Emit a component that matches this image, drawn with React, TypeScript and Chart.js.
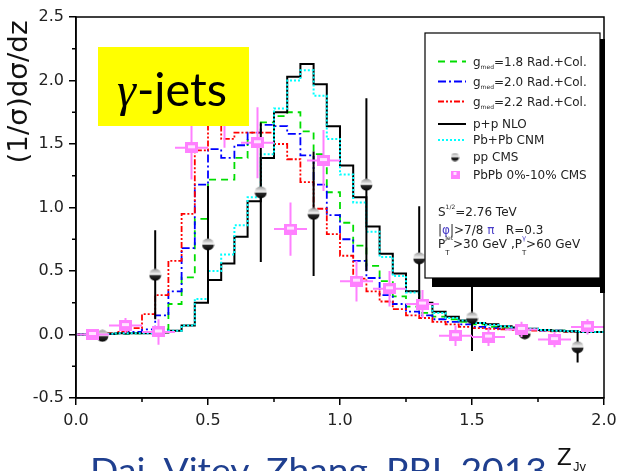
import React, { useEffect, useRef } from 'react';
import { Chart, registerables } from 'chart.js';

Chart.register(...registerables);

// ---------- data ----------
// histograms: 40 bins of width 0.05 covering z_Jgamma in [0, 2]
const BIN_START = 0;
const BIN_WIDTH = 0.05;

const ppNLO = [0.0, 0.0, 0.005, 0.01, 0.01, 0.01, 0.015, 0.03, 0.07, 0.25, 0.43, 0.56, 0.77, 1.05, 1.39, 1.75, 2.03, 2.13, 1.97, 1.64, 1.33, 1.08, 0.85, 0.635, 0.48, 0.34, 0.25, 0.18, 0.14, 0.11, 0.09, 0.08, 0.065, 0.055, 0.045, 0.035, 0.03, 0.025, 0.02, 0.02];
const pbpbCNM = [0.0, 0.0, 0.005, 0.01, 0.01, 0.01, 0.02, 0.03, 0.07, 0.28, 0.5, 0.63, 0.86, 1.08, 1.42, 1.78, 2.0, 2.08, 1.88, 1.54, 1.26, 1.04, 0.81, 0.61, 0.46, 0.33, 0.24, 0.17, 0.13, 0.11, 0.09, 0.075, 0.065, 0.055, 0.045, 0.035, 0.03, 0.025, 0.02, 0.02];
const gmed18 = [0.0, 0.0, 0.003, 0.005, 0.01, 0.015, 0.04, 0.24, 0.45, 0.91, 1.22, 1.22, 1.39, 1.53, 1.67, 1.72, 1.75, 1.6, 1.42, 1.12, 0.88, 0.7, 0.54, 0.42, 0.3, 0.22, 0.17, 0.14, 0.12, 0.1, 0.08, 0.06, 0.05, 0.045, 0.04, 0.035, 0.03, 0.025, 0.02, 0.02];
const gmed20 = [0.0, 0.0, 0.005, 0.01, 0.02, 0.04, 0.15, 0.34, 0.68, 1.18, 1.46, 1.39, 1.49, 1.59, 1.65, 1.64, 1.58, 1.41, 1.18, 0.94, 0.75, 0.58, 0.445, 0.31, 0.24, 0.18, 0.15, 0.12, 0.1, 0.08, 0.06, 0.05, 0.045, 0.04, 0.035, 0.03, 0.03, 0.025, 0.02, 0.02];
const gmed22 = [0.0, 0.005, 0.01, 0.02, 0.05, 0.16, 0.31, 0.58, 0.95, 1.45, 1.7, 1.54, 1.59, 1.59, 1.59, 1.5, 1.38, 1.2, 0.99, 0.79, 0.62, 0.44, 0.34, 0.26, 0.2, 0.15, 0.13, 0.1, 0.08, 0.06, 0.05, 0.045, 0.04, 0.035, 0.03, 0.03, 0.025, 0.02, 0.02, 0.02];

// pp CMS points
const ppCmsZ = [0.1, 0.3, 0.5, 0.7, 0.9, 1.1, 1.3, 1.5, 1.7, 1.9];
const ppCmsVal = [-0.01, 0.47, 0.71, 1.12, 0.95, 1.18, 0.6, 0.13, 0.01, -0.1];
const ppCmsErr = [0.03, 0.35, 0.46, 0.55, 0.49, 0.68, 0.41, 0.26, 0.03, 0.12];

// PbPb 0-10% CMS points
const pbCmsZ = [0.0625, 0.1875, 0.3125, 0.4375, 0.5625, 0.6875, 0.8125, 0.9375, 1.0625, 1.1875, 1.3125, 1.4375, 1.5625, 1.6875, 1.8125, 1.9375];
const pbCmsVal = [0.0, 0.07, 0.02, 1.47, 1.8, 1.51, 0.83, 1.37, 0.42, 0.36, 0.24, -0.01, -0.02, 0.04, -0.04, 0.06];
const pbCmsErr = [0.02, 0.06, 0.1, 0.25, 0.33, 0.28, 0.21, 0.24, 0.16, 0.14, 0.11, 0.08, 0.07, 0.06, 0.06, 0.06];
const pbCmsHalfBin = 0.0625;

// axes
const X_MIN = 0, X_MAX = 2, X_STEP = 0.5;
const Y_MIN = -0.5, Y_MAX = 2.5, Y_STEP = 0.5;
const xMinorTicks = [0.25, 0.75, 1.25, 1.75];
const yMinorTicks = [-0.25, 0.25, 0.75, 1.25, 1.75, 2.25];

// labels
const yTitle = '(1/\u03c3)d\u03c3/dz';
const legendLabels = ['=1.8 Rad.+Col.', '=2.0 Rad.+Col.', '=2.2 Rad.+Col.', 'p+p NLO', 'Pb+Pb CNM', 'pp CMS', 'PbPb 0%-10% CMS'];
const boxTitle = '-jets';
const citation = 'Dai, Vitev, Zhang, PRL 2013';

// ---------- styles ----------
const STY = {
  g18: { color: '#00dd00', dash: [7, 5], width: 1.8 },
  g20: { color: '#0000ff', dash: [8, 3, 2, 3], width: 1.8 },
  g22: { color: '#ff0000', dash: [6, 2, 2, 2, 2, 2], width: 1.8 },
  nlo: { color: '#000000', dash: [] as number[], width: 2 },
  cnm: { color: '#00ffff', dash: [2, 2], width: 2 },
};
const PINK = '#ff80ff';
const FONT = '"DejaVu Sans", sans-serif';

function histPoints(vals: number[]) {
  const pts = vals.map((v, i) => ({ x: BIN_START + i * BIN_WIDTH, y: v }));
  pts.push({ x: BIN_START + vals.length * BIN_WIDTH, y: vals[vals.length - 1] });
  return pts;
}
function vBars(xs: number[], ys: number[], es: number[]) {
  return xs.flatMap((x, i) => [
    { x, y: ys[i] - es[i] as number | null },
    { x, y: ys[i] + es[i] as number | null },
    { x, y: null as number | null },
  ]);
}
function hBars(xs: number[], ys: number[], h: number) {
  return xs.flatMap((x, i) => [
    { x: x - h, y: ys[i] as number | null },
    { x: x + h, y: ys[i] as number | null },
    { x: x + h, y: null as number | null },
  ]);
}

function makeSphere(size: number) {
  const c = document.createElement('canvas');
  c.width = size; c.height = size;
  const g = c.getContext('2d')!;
  const r = size / 2;
  const grad = g.createLinearGradient(0, 0, 0, size);
  grad.addColorStop(0, '#8c8c8c');
  grad.addColorStop(0.3, '#cfcfcf');
  grad.addColorStop(0.48, '#ffffff');
  grad.addColorStop(0.56, '#2a2a2a');
  grad.addColorStop(1, '#000000');
  g.fillStyle = grad;
  g.beginPath();
  g.arc(r, r, r - 0.5, 0, Math.PI * 2);
  g.fill();
  return c;
}
function makePink(w: number, h: number) {
  const c = document.createElement('canvas');
  c.width = w; c.height = h;
  const g = c.getContext('2d')!;
  g.fillStyle = PINK;
  g.fillRect(0, 0, w, h);
  g.fillStyle = '#ffe4ff';
  g.fillRect(3, Math.round(h / 2) - 3, w - 6, 3);
  return c;
}

type Run = { t: string; size?: number; dy?: number; color?: string; noAdv?: boolean; italic?: boolean };
function drawRuns(ctx: CanvasRenderingContext2D, x: number, y: number, runs: Run[]) {
  let cx = x;
  for (const r of runs) {
    ctx.font = `${r.italic ? 'italic ' : ''}${r.size ?? 12}px ${FONT}`;
    ctx.fillStyle = r.color ?? '#222';
    ctx.fillText(r.t, cx, y + (r.dy ?? 0));
    if (!r.noAdv) cx += ctx.measureText(r.t).width;
  }
}
function fitText(ctx: CanvasRenderingContext2D, text: string, x: number, y: number, w: number) {
  const m = ctx.measureText(text).width;
  ctx.save();
  ctx.translate(x, y);
  ctx.scale(w / m, 1);
  ctx.fillText(text, 0, 0);
  ctx.restore();
}

export default function App() {
  const ref = useRef<HTMLCanvasElement | null>(null);

  useEffect(() => {
    if (!ref.current) return;
    const sphere = makeSphere(13);
    const pink = makePink(13, 11);
    const sphereSmall = makeSphere(9);
    const pinkSmall = makePink(9, 8);

    const decor = {
      id: 'decor',
      afterDraw(chart: any) {
        const { ctx, chartArea: a, scales } = chart;
        const xs = scales.x, ys = scales.y;
        ctx.save();
        ctx.textAlign = 'left';
        ctx.textBaseline = 'alphabetic';
        // minor ticks
        ctx.strokeStyle = '#000';
        ctx.lineWidth = 1.5;
        ctx.setLineDash([]);
        ctx.beginPath();
        for (const v of yMinorTicks) {
          const p = ys.getPixelForValue(v);
          ctx.moveTo(a.left - 4, p); ctx.lineTo(a.left, p);
        }
        for (const v of xMinorTicks) {
          const p = xs.getPixelForValue(v);
          ctx.moveTo(p, a.bottom); ctx.lineTo(p, a.bottom + 4);
        }
        ctx.stroke();
        // frame
        ctx.strokeRect(a.left, a.top, a.right - a.left, a.bottom - a.top);

        // legend box with shadow
        const LX = 425, LY = 33, LW = 175, LH = 245;
        ctx.fillStyle = '#000';
        ctx.fillRect(LX + 7, LY + LH, LW - 2, 9);
        ctx.fillRect(LX + LW, LY + 6, 5, LH + 9);
        ctx.fillStyle = '#fff';
        ctx.fillRect(LX, LY, LW, LH);
        ctx.lineWidth = 1.2;
        ctx.strokeStyle = '#000';
        ctx.strokeRect(LX, LY, LW, LH);

        const lineRows = [
          { s: STY.g18, y: 61.5 },
          { s: STY.g20, y: 81.5 },
          { s: STY.g22, y: 101.5 },
          { s: STY.nlo, y: 124 },
          { s: STY.cnm, y: 140 },
        ];
        lineRows.forEach((row, i) => {
          ctx.strokeStyle = row.s.color;
          ctx.lineWidth = row.s.width;
          ctx.setLineDash(row.s.dash);
          ctx.beginPath();
          ctx.moveTo(438, row.y); ctx.lineTo(466, row.y);
          ctx.stroke();
          ctx.setLineDash([]);
          if (i < 3) {
            drawRuns(ctx, 473, row.y + 4, [
              { t: 'g', size: 12 },
              { t: 'med', size: 6, dy: 3 },
              { t: legendLabels[i], size: 12 },
            ]);
          } else {
            drawRuns(ctx, 473, row.y + 4, [{ t: legendLabels[i], size: 12 }]);
          }
        });
        ctx.drawImage(sphereSmall, 455 - 4.5, 157 - 4.5);
        drawRuns(ctx, 473, 161, [{ t: legendLabels[5], size: 12 }]);
        ctx.drawImage(pinkSmall, 455 - 4.5, 175 - 4);
        drawRuns(ctx, 473, 179, [{ t: legendLabels[6], size: 12 }]);

        // kinematics text
        drawRuns(ctx, 438, 216, [
          { t: 'S', size: 12 },
          { t: '1/2', size: 6, dy: -7 },
          { t: '=2.76 TeV', size: 12 },
        ]);
        drawRuns(ctx, 438, 234, [
          { t: '|', size: 12 },
          { t: '\u03c6', size: 12, color: '#4b3fc8' },
          { t: '|>7/8 ', size: 12 },
          { t: '\u03c0', size: 12, color: '#4b3fc8' },
          { t: '   R=0.3', size: 12 },
        ]);
        drawRuns(ctx, 438, 248, [
          { t: 'P', size: 12 },
          { t: 'T', size: 7, dy: 7, noAdv: true },
          { t: 'Jet', size: 6, dy: -8 },
          { t: '>30 GeV ,P', size: 12 },
          { t: 'T', size: 7, dy: 7, noAdv: true },
          { t: '\u03b3', size: 7, dy: -8, color: '#4b3fc8' },
          { t: '>60 GeV', size: 12 },
        ]);

        // yellow label box
        ctx.fillStyle = '#ffff00';
        ctx.fillRect(98, 47, 151, 79);
        ctx.fillStyle = '#000';
        ctx.font = 'italic 48px "Liberation Serif", serif';
        ctx.fillText('\u03b3', 117, 106);
        const gw = ctx.measureText('\u03b3').width;
        ctx.font = '46px Lato, sans-serif';
        fitText(ctx, boxTitle, 117 + gw + 1, 106, 227 - (117 + gw + 1));

        // y-axis title
        ctx.save();
        ctx.translate(20, 92);
        ctx.rotate(-Math.PI / 2);
        ctx.font = `26px ${FONT}`;
        ctx.fillStyle = '#111';
        ctx.textAlign = 'center';
        ctx.textBaseline = 'middle';
        const tw = ctx.measureText(yTitle).width;
        ctx.scale(143 / tw, 1);
        ctx.fillText(yTitle, 0, 0);
        ctx.restore();

        // x-axis title
        ctx.fillStyle = '#111';
        ctx.font = '24px "Liberation Sans", sans-serif';
        ctx.fillText('Z', 557, 465);
        ctx.font = '13px "Liberation Sans", sans-serif';
        ctx.fillText('J\u03b3', 573, 471);

        // citation, cut off by the bottom edge
        ctx.fillStyle = '#1f3f8f';
        ctx.font = '34px Lato, sans-serif';
        fitText(ctx, citation, 90, 483, 457);

        ctx.restore();
      },
    };

    const histDs = (vals: number[], s: any, order: number) => ({
      type: 'line' as const,
      data: histPoints(vals),
      borderColor: s.color,
      borderDash: s.dash,
      borderWidth: s.width,
      stepped: 'before' as const,
      pointRadius: 0,
      fill: false,
      order,
    });

    const chart = new Chart(ref.current, {
      type: 'line',
      data: {
        datasets: [
          {
            data: pbCmsZ.map((x, i) => ({ x, y: pbCmsVal[i] })),
            showLine: false,
            pointStyle: pink as any,
            pointRadius: 6,
            order: 0,
          } as any,
          {
            data: [...vBars(pbCmsZ, pbCmsVal, pbCmsErr), ...hBars(pbCmsZ, pbCmsVal, pbCmsHalfBin)],
            borderColor: PINK,
            borderWidth: 2,
            pointRadius: 0,
            fill: false,
            order: 1,
          },
          {
            data: ppCmsZ.map((x, i) => ({ x, y: ppCmsVal[i] })),
            showLine: false,
            pointStyle: sphere as any,
            pointRadius: 6,
            order: 2,
          } as any,
          {
            data: vBars(ppCmsZ, ppCmsVal, ppCmsErr),
            borderColor: '#000',
            borderWidth: 2,
            pointRadius: 0,
            fill: false,
            order: 3,
          },
          histDs(pbpbCNM, STY.cnm, 4),
          histDs(ppNLO, STY.nlo, 5),
          histDs(gmed22, STY.g22, 6),
          histDs(gmed20, STY.g20, 7),
          histDs(gmed18, STY.g18, 8),
        ] as any,
      },
      options: {
        animation: false,
        responsive: false,
        maintainAspectRatio: false,
        events: [],
        layout: { padding: { top: 17, right: 14, left: 0, bottom: 0 } },
        plugins: { legend: { display: false }, tooltip: { enabled: false } },
        scales: {
          x: {
            type: 'linear',
            min: X_MIN,
            max: X_MAX,
            ticks: {
              stepSize: X_STEP,
              callback: (v: any) => Number(v).toFixed(1),
              font: { family: 'DejaVu Sans', size: 16 },
              color: '#222',
              padding: 6,
              maxRotation: 0,
              autoSkip: false,
            },
            grid: { drawOnChartArea: false, drawTicks: true, tickLength: 7, color: '#000', lineWidth: 1.5 },
            border: { display: true, color: '#000', width: 1.5 },
            afterFit: (s: any) => { s.height = 73; s.paddingLeft = 0; s.paddingRight = 0; },
          },
          y: {
            type: 'linear',
            min: Y_MIN,
            max: Y_MAX,
            ticks: {
              stepSize: Y_STEP,
              callback: (v: any) => Number(v).toFixed(1),
              font: { family: 'DejaVu Sans', size: 16 },
              color: '#222',
              padding: 5,
            },
            grid: { drawOnChartArea: false, drawTicks: true, tickLength: 7, color: '#000', lineWidth: 1.5 },
            border: { display: true, color: '#000', width: 1.5 },
            afterFit: (s: any) => { s.width = 76; s.paddingTop = 0; s.paddingBottom = 0; },
          },
        },
      } as any,
      plugins: [decor],
    });
    return () => chart.destroy();
  }, []);

  return (
    <div style={{ position: 'fixed', left: 0, top: 0, width: 618, height: 471, overflow: 'hidden', background: '#fff' }}>
      <canvas ref={ref} width={618} height={471} style={{ display: 'block', width: 618, height: 471 }} />
    </div>
  );
}
